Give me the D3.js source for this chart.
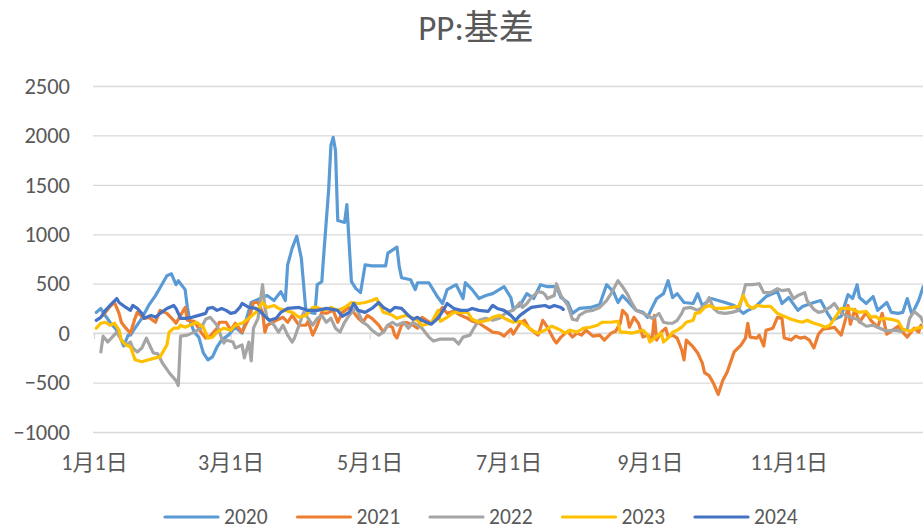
<!DOCTYPE html>
<html><head><meta charset="utf-8">
<script src="https://cdn.jsdelivr.net/npm/d3@7"></script>
<style>
body{margin:0;background:#fff}
svg{display:block}
text{font-family:Calibri,Carlito,"Liberation Sans","Noto Sans CJK SC",sans-serif;fill:#595959}
</style>
</head><body>
<svg id="chart" width="923" height="530"></svg>
<script>
const title = "PP:基差";
const yTicks = [-1000,-500,0,500,1000,1500,2000,2500];
const xTickDates = ["01-01","03-01","05-01","07-01","09-01","11-01"];
const xTickLabels = ["1月1日","3月1日","5月1日","7月1日","9月1日","11月1日"];
const seriesNames = ["2020","2021","2022","2023","2024"];
const seriesColors = ["#5B9BD5","#ED7D31","#A5A5A5","#FFC000","#4472C4"];

const dates2020 = ["01-02","01-04","01-05","01-08","01-11","01-13","01-14","01-16","01-17","01-19","01-22","01-25","01-28","01-31","02-02","02-04","02-06","02-07","02-10","02-11","02-12","02-14","02-16","02-18","02-20","02-22","02-24","02-26","02-29","03-03","03-06","03-08","03-09","03-10","03-12","03-15","03-17","03-20","03-23","03-25","03-26","03-28","03-30","04-01","04-03","04-05","04-07","04-08","04-10","04-11","04-13","04-14","04-15","04-16","04-17","04-20","04-21","04-23","04-25","04-27","04-29","05-02","05-05","05-08","05-09","05-13","05-14","05-15","05-19","05-21","05-22","05-27","05-31","06-02","06-04","06-08","06-11","06-12","06-15","06-18","06-21","06-24","06-29","07-02","07-03","07-06","07-09","07-12","07-15","07-18","07-22","07-24","07-27","07-29","08-01","08-06","08-10","08-13","08-16","08-18","08-20","08-22","08-26","08-29","08-31","09-02","09-04","09-07","09-09","09-11","09-13","09-16","09-20","09-22","09-24","09-28","10-04","10-08","10-12","10-14","10-17","10-22","10-27","10-29","11-01","11-05","11-07","11-12","11-15","11-18","11-20","11-24","11-27","11-29","12-01","12-02","12-05","12-08","12-10","12-14","12-16","12-19","12-21","12-23","12-25","12-28","12-30"];
const values2020 = [210,250,210,110,30,-70,-130,-20,-20,50,150,280,380,500,580,600,490,530,440,260,130,10,-40,-200,-270,-240,-140,-70,-20,60,0,150,230,310,330,360,380,330,420,330,690,860,980,760,230,210,200,490,520,840,1450,1900,1980,1850,1140,1120,1300,520,450,410,690,680,680,680,810,870,670,560,540,440,510,510,360,300,440,490,350,510,440,350,380,400,470,360,250,280,400,350,490,470,470,360,310,200,250,260,290,490,420,310,380,330,230,210,160,260,350,400,530,360,400,310,300,400,280,350,310,280,200,230,260,370,420,300,360,230,270,310,330,200,130,170,390,350,490,360,300,370,230,310,210,200,210,350,190,330,470];

const dates2021 = ["01-05","01-08","01-10","01-12","01-13","01-15","01-17","01-19","01-20","01-23","01-25","01-28","01-30","02-02","02-05","02-06","02-08","02-10","02-11","02-14","02-17","02-19","02-21","02-24","02-25","02-28","03-01","03-03","03-06","03-09","03-11","03-13","03-15","03-16","03-17","03-21","03-24","03-26","03-28","03-31","04-03","04-04","04-06","04-08","04-10","04-12","04-15","04-17","04-19","04-22","04-24","04-26","04-28","04-30","05-02","05-05","05-07","05-09","05-11","05-12","05-13","05-15","05-17","05-20","05-22","05-24","05-28","05-31","06-02","06-04","06-07","06-10","06-13","06-15","06-18","06-22","06-24","06-27","06-29","07-02","07-03","07-06","07-08","07-10","07-14","07-16","07-18","07-21","07-22","07-24","07-27","07-29","07-31","08-02","08-04","08-07","08-10","08-12","08-15","08-17","08-19","08-20","08-22","08-23","08-25","08-27","08-29","08-31","09-02","09-03","09-04","09-06","09-08","09-09","09-11","09-13","09-15","09-16","09-17","09-20","09-22","09-24","09-25","09-27","09-29","10-01","10-03","10-05","10-08","10-11","10-13","10-14","10-15","10-18","10-19","10-21","10-22","10-25","10-27","10-29","10-30","11-02","11-04","11-06","11-08","11-10","11-12","11-14","11-16","11-19","11-21","11-24","11-26","11-27","11-28","11-30","12-02","12-05","12-07","12-10","12-12","12-14","12-16","12-19","12-21","12-23","12-26","12-28","12-29"];
const values2021 = [180,270,310,200,110,50,0,150,210,150,160,110,230,200,130,100,180,260,130,120,10,-50,-30,50,110,110,30,100,10,150,310,310,210,10,80,130,160,110,180,80,80,120,-20,80,210,200,230,110,210,260,210,150,110,180,150,80,10,80,60,-20,-50,80,110,80,50,160,100,200,260,200,220,180,150,120,100,40,10,0,-30,40,-10,100,130,50,-20,130,60,-70,-100,-40,20,-40,0,-20,30,-30,-20,-70,0,20,100,230,180,60,160,100,-40,-20,-70,180,-70,10,50,-40,-20,-50,-170,-270,-70,-140,-200,-300,-400,-430,-510,-620,-480,-390,-190,-120,-50,100,-40,-50,-20,-130,30,50,160,150,-50,-70,-30,-50,-40,-70,-150,-10,40,50,60,-20,150,280,90,240,110,210,130,60,200,-10,20,70,10,-40,50,10,80];

const dates2022 = ["01-04","01-05","01-07","01-09","01-11","01-13","01-15","01-17","01-18","01-20","01-22","01-24","01-26","01-27","01-29","01-31","02-03","02-06","02-07","02-08","02-11","02-14","02-17","02-19","02-21","02-24","02-26","02-27","02-28","03-02","03-03","03-06","03-07","03-09","03-10","03-11","03-13","03-15","03-16","03-17","03-20","03-22","03-24","03-26","03-28","03-29","03-31","04-02","04-04","04-06","04-08","04-10","04-12","04-14","04-16","04-18","04-20","04-22","04-25","04-26","04-28","04-30","05-02","05-05","05-07","05-09","05-11","05-13","05-16","05-18","05-20","05-22","05-24","05-27","05-29","06-01","06-04","06-07","06-09","06-11","06-14","06-16","06-18","06-21","06-24","06-27","06-30","07-03","07-06","07-07","07-09","07-11","07-14","07-16","07-17","07-18","07-21","07-22","07-24","07-27","07-29","07-31","08-01","08-04","08-07","08-10","08-13","08-15","08-18","08-20","08-22","08-24","08-26","08-29","08-31","09-02","09-03","09-05","09-07","09-09","09-11","09-13","09-15","09-16","09-19","09-22","09-24","09-26","09-27","09-29","10-01","10-04","10-07","10-10","10-12","10-13","10-16","10-19","10-21","10-24","10-27","10-29","11-01","11-03","11-05","11-08","11-09","11-12","11-14","11-16","11-19","11-21","11-24","11-26","11-28","12-01","12-03","12-05","12-08","12-11","12-14","12-17","12-20","12-23","12-24","12-26","12-29","12-30"];
const values2022 = [-190,-30,-90,-40,10,-70,-120,-90,-150,-190,-150,-50,-150,-200,-210,-300,-400,-480,-530,-30,-20,10,50,140,160,80,-50,-100,-70,-90,-150,-120,-250,-90,-280,50,150,490,260,150,80,10,80,-20,-90,-50,80,210,150,80,150,180,110,150,50,10,110,180,260,210,110,80,30,-20,10,80,110,80,110,50,110,80,50,-40,-80,-60,-60,-60,-110,-40,-20,60,130,150,130,150,210,230,310,260,300,360,420,410,390,350,380,500,380,280,140,130,180,220,230,260,330,400,530,470,400,310,230,200,180,150,160,200,110,100,100,130,200,250,260,230,260,310,360,250,210,200,210,230,400,490,490,500,410,410,450,430,440,350,380,410,330,240,210,220,260,300,200,180,160,140,100,70,80,50,20,30,20,40,150,220,160,110];

const dates2023 = ["01-02","01-04","01-06","01-08","01-10","01-12","01-13","01-15","01-17","01-18","01-19","01-22","01-25","01-28","01-30","01-31","02-02","02-03","02-05","02-07","02-08","02-10","02-12","02-15","02-18","02-20","02-22","02-24","02-27","03-01","03-03","03-06","03-09","03-12","03-15","03-17","03-20","03-22","03-25","03-28","03-31","04-03","04-06","04-08","04-11","04-14","04-17","04-20","04-23","04-26","04-29","05-02","05-04","05-07","05-09","05-11","05-13","05-17","05-20","05-22","05-24","05-28","05-31","06-01","06-04","06-07","06-10","06-13","06-15","06-18","06-22","06-24","06-27","06-30","07-03","07-06","07-09","07-12","07-14","07-17","07-20","07-23","07-26","07-28","07-31","08-03","08-06","08-09","08-11","08-15","08-18","08-19","08-21","08-24","08-26","08-29","08-31","09-01","09-03","09-06","09-07","09-09","09-11","09-13","09-15","09-17","09-20","09-21","09-23","09-25","09-27","09-30","10-03","10-07","10-10","10-12","10-14","10-16","10-18","10-21","10-24","10-27","10-29","11-02","11-05","11-07","11-09","11-12","11-15","11-17","11-19","11-22","11-24","11-27","11-29","12-02","12-05","12-07","12-09","12-11","12-13","12-16","12-19","12-21","12-24","12-27","12-30"];
const values2023 = [50,100,110,80,100,30,-70,-120,-140,-200,-270,-290,-270,-250,-240,-200,-120,10,50,50,80,60,80,110,60,-50,-40,10,50,30,80,100,150,210,310,260,280,250,230,210,160,180,260,260,230,260,230,260,310,300,310,330,350,210,200,180,150,180,150,130,80,100,230,120,160,210,210,210,140,110,130,160,180,140,110,120,70,20,0,30,70,40,0,30,10,50,60,80,110,110,120,10,10,0,10,30,-20,-90,-50,0,-90,-50,10,30,60,110,130,200,210,260,280,250,250,260,270,380,280,250,280,270,270,200,180,140,120,110,130,100,80,60,80,180,250,250,240,210,220,160,170,140,150,140,120,40,20,50,60];

const dates2024 = ["01-02","01-04","01-06","01-08","01-11","01-12","01-15","01-17","01-18","01-20","01-22","01-23","01-26","01-28","01-30","02-02","02-05","02-06","02-08","02-10","02-13","02-16","02-19","02-20","02-22","02-24","02-26","02-28","03-01","03-03","03-05","03-06","03-09","03-12","03-14","03-16","03-18","03-21","03-23","03-26","03-31","04-04","04-08","04-12","04-17","04-19","04-22","04-24","04-26","04-29","05-02","05-05","05-07","05-10","05-12","05-15","05-18","05-20","05-22","05-24","05-26","05-28","05-31","06-02","06-04","06-07","06-10","06-13","06-15","06-18","06-22","06-24","06-26","06-29","07-02","07-04","07-06","07-09","07-11","07-14","07-17","07-19","07-21","07-24","07-25"];
const values2024 = [130,160,230,280,350,310,260,230,280,250,200,150,180,160,200,250,280,250,150,150,160,180,200,250,260,230,250,230,200,210,260,300,260,250,220,170,130,150,210,250,260,230,230,250,230,170,210,300,230,210,250,310,260,220,260,250,180,140,160,130,110,90,150,220,300,250,230,230,250,230,220,280,250,230,180,130,180,230,260,270,280,260,280,260,240];

const seriesDates = [dates2020, dates2021, dates2022, dates2023, dates2024];
const seriesValues = [values2020, values2021, values2022, values2023, values2024];

const W = 923, H = 530;
const plotLeft = 93, plotRight = 923, plotTop = 86, plotBottom = 432;
const parse = d3.timeParse("%Y-%m-%d");
const toDate = s => parse("2020-" + s);

const x = d3.scaleTime()
  .domain([toDate("01-01"), toDate("12-31")])
  .range([94, 925.5]);
const y = d3.scaleLinear().domain([-1000, 2500]).range([plotBottom, plotTop]);

const svg = d3.select("#chart");

svg.append("defs").append("clipPath").attr("id", "clip")
  .append("rect").attr("x", plotLeft - 5).attr("y", 0).attr("width", plotRight - plotLeft + 5).attr("height", H);

// title
svg.append("text").attr("x", 476).attr("y", 40).attr("text-anchor", "middle")
  .style("font-size", "35px").text(title);

// y axis with gridlines
const yAxis = d3.axisLeft(y).tickValues(yTicks).tickFormat(d3.format("d"))
  .tickSize(-(plotRight - plotLeft)).tickSizeOuter(0).tickPadding(23);
const gy = svg.append("g").attr("transform", `translate(${plotLeft},0)`).call(yAxis);
gy.select(".domain").remove();
gy.selectAll(".tick line").attr("stroke", "#d9d9d9").attr("stroke-width", 1.3);
gy.selectAll(".tick text").style("font-size", "22.5px").attr("fill", "#595959");

// category axis at zero with tick marks
const xAxisTicks = d3.axisBottom(x).tickValues(xTickDates.map(toDate)).tickFormat("").tickSize(6).tickSizeOuter(0);
const gx0 = svg.append("g").attr("transform", `translate(0,${y(0)})`).call(xAxisTicks);
gx0.select(".domain").attr("stroke", "#d9d9d9").attr("stroke-width", 1.3).attr("d", `M${plotLeft},0H${plotRight}`);
gx0.selectAll(".tick line").attr("stroke", "#d9d9d9").attr("stroke-width", 1.3);

// category labels at the bottom
const xAxisLabels = d3.axisBottom(x).tickValues(xTickDates.map(toDate))
  .tickFormat((d, i) => xTickLabels[i]).tickSize(0).tickPadding(22);
const gx = svg.append("g").attr("transform", `translate(0,${plotBottom})`).call(xAxisLabels);
gx.select(".domain").remove();
gx.selectAll(".tick text").style("font-size", "22px").attr("fill", "#595959");

// lines
const line = d3.line().x(d => x(d.date)).y(d => y(d.value)).curve(d3.curveLinear);
const gLines = svg.append("g").attr("clip-path", "url(#clip)");
seriesNames.forEach((name, i) => {
  const data = seriesDates[i].map((s, j) => ({ date: toDate(s), value: seriesValues[i][j] }));
  gLines.append("path").datum(data)
    .attr("fill", "none").attr("stroke", seriesColors[i]).attr("stroke-width", 3.2)
    .attr("stroke-linejoin", "round").attr("stroke-linecap", "round")
    .attr("d", line);
});

// legend
const legendStart = 165, legendStep = 132.5, legendY = 517;
const lg = svg.append("g");
seriesNames.forEach((name, i) => {
  const x0 = legendStart + i * legendStep;
  lg.append("line").attr("x1", x0).attr("x2", x0 + 53).attr("y1", legendY).attr("y2", legendY)
    .attr("stroke", seriesColors[i]).attr("stroke-width", 3.2).attr("stroke-linecap", "round");
  lg.append("text").attr("x", x0 + 59).attr("y", legendY + 7).style("font-size", "21.5px").text(name);
});
</script>
</body></html>
